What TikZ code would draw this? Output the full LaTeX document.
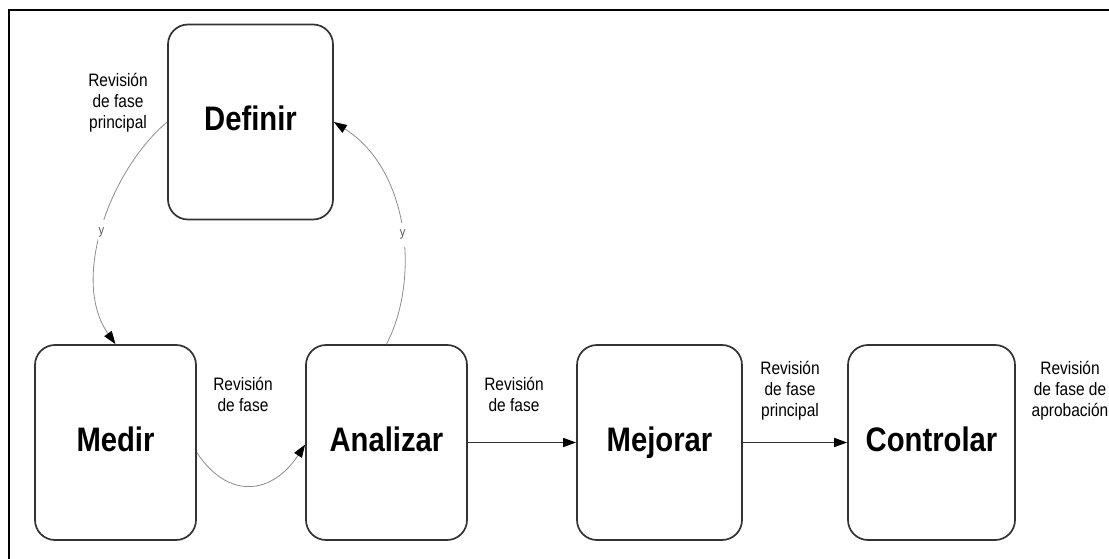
\documentclass[tikz,border=0pt]{standalone}
\usepackage{fontspec}
\setmainfont{Liberation Sans}[FakeStretch=0.86]
\usetikzlibrary{arrows.meta,calc}
\definecolor{boxline}{HTML}{333333}
\definecolor{arcline}{HTML}{8C8C8C}
\definecolor{amptext}{HTML}{555555}
\begin{document}
\begin{tikzpicture}[x=1pt,y=-1pt,
  phase/.style={draw=boxline,line width=1.7pt,rounded corners=20pt,
    minimum height=195pt,inner sep=0pt,text height=24pt,text depth=7pt,
    font=\fontsize{34}{40}\selectfont\bfseries},
  note/.style={align=center,inner sep=0pt,
    font=\fontsize{18}{21}\selectfont},
  tip/.style={-{Triangle[length=13pt,width=9pt,color=black]}},
  arc/.style={tip,draw=arcline,line width=0.8pt},
  flow/.style={tip,draw=boxline,line width=1.4pt},
  amp/.style={fill=white,inner sep=1pt,minimum height=24pt,
    font=\fontsize{13}{15}\selectfont,text=amptext}]
\useasboundingbox (0,0) rectangle (1109,559);

% frame (left and top edges)
\coordinate (fbl) at (9,559);
\coordinate (ftl) at (9,10);
\coordinate (ftr) at (1109,10);
\draw[line width=2pt] (fbl) -- (ftl) -- (ftr);

% phases
\node[phase,minimum width=165pt] (def) at (250.5,122) {Definir};
\node[phase,minimum width=161pt] (med) at (115.5,442.5) {Medir};
\node[phase,minimum width=161pt] (ana) at (386.5,442.5) {Analizar};
\node[phase,minimum width=165pt] (mej) at (659.5,442.5) {Mejorar};
\node[phase,minimum width=167pt] (con) at (931.5,442.5) {Controlar};

% review notes
\node[note] (n1) at (118,103) {Revisión\\de fase\\principal};
\node[note] (n2) at (243,394) {Revisión\\de fase};
\node[note] (n3) at (514,394) {Revisión\\de fase};
\node[note] (n4) at (790,391) {Revisión\\de fase\\principal};
\node[note] (n5) at (1070,391) {Revisión\\de fase de\\aprobación};

% connectors
\draw[arc] (def.west) .. controls (110,170) and (70,280) .. (med.north)
  node[amp,pos=0.52] {y};
\draw[arc] (ana.north) .. controls (420,280) and (410,170) .. (def.east)
  node[amp,pos=0.47] {y};
\draw[arc] ($(med.east)+(0,10)$) .. controls (228,500) and (272,495) .. ($(ana.west)+(0,2)$);
\draw[flow] (ana.east) -- (mej.west);
\draw[flow] (mej.east) -- (con.west);
\end{tikzpicture}
\end{document}
